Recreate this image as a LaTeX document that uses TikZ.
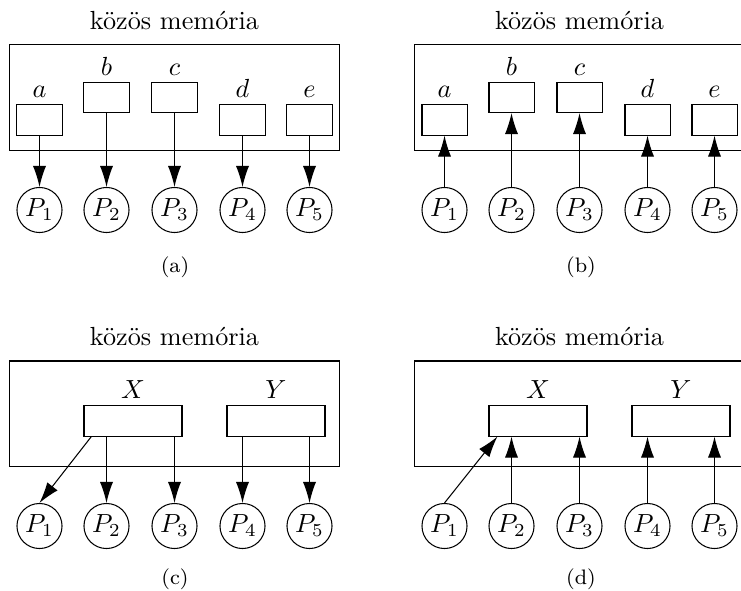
\documentclass[tikz,border=0pt]{standalone}
\usepackage{amsmath}
\usetikzlibrary{arrows.meta}
\usetikzlibrary{positioning}

\tikzset{
  mem/.style={draw, minimum width=126.3pt, minimum height=40.1pt, inner sep=0pt},
  cell/.style={draw, minimum width=17.2pt, minimum height=11.5pt, inner sep=0pt},
  widecell/.style={draw, minimum width=37.4pt, minimum height=11.5pt, inner sep=0pt},
  proc/.style={draw, circle, minimum size=17.2pt, inner sep=1pt},
  lbl/.style={label distance=-1pt},
  acc/.style={-{Latex[length=8pt,width=5pt]}},
  capt/.style={font=\footnotesize}
}

\begin{document}
\begin{tikzpicture}[x=0.3817pt, y=-0.3817pt]
    \useasboundingbox (0, 0) rectangle (741, 590);
    \clip (0, 0) rectangle (741, 590);

    % (a)
    \node [mem] (memA) at (174.5, 97.5) {};
    \node [above=2pt of memA] (titleA) {közös memória};
    \node [cell, label={[lbl]above:$a$}] (aA) at (39.5, 120) {};
    \node [cell, label={[lbl]above:$b$}] (bA) at (106.5, 97.5) {};
    \node [cell, label={[lbl]above:$c$}] (cA) at (174.5, 97.5) {};
    \node [cell, label={[lbl]above:$d$}] (dA) at (242.5, 120) {};
    \node [cell, label={[lbl]above:$e$}] (eA) at (309.5, 120) {};
    \node [proc] (p1A) at (39.5, 210) {$P_1$};
    \node [proc] (p2A) at (106.5, 210) {$P_2$};
    \node [proc] (p3A) at (174.5, 210) {$P_3$};
    \node [proc] (p4A) at (242.5, 210) {$P_4$};
    \node [proc] (p5A) at (309.5, 210) {$P_5$};
    \draw [acc] (aA) -- (p1A);
    \draw [acc] (bA) -- (p2A);
    \draw [acc] (cA) -- (p3A);
    \draw [acc] (dA) -- (p4A);
    \draw [acc] (eA) -- (p5A);
    \node [capt] (capA) at (175, 267) {(a)};

    % (b)
    \begin{scope}[shift={(405, 0)}]
      \node [mem] (memB) at (174.5, 97.5) {};
      \node [above=2pt of memB] (titleB) {közös memória};
      \node [cell, label={[lbl]above:$a$}] (aB) at (39.5, 120) {};
      \node [cell, label={[lbl]above:$b$}] (bB) at (106.5, 97.5) {};
      \node [cell, label={[lbl]above:$c$}] (cB) at (174.5, 97.5) {};
      \node [cell, label={[lbl]above:$d$}] (dB) at (242.5, 120) {};
      \node [cell, label={[lbl]above:$e$}] (eB) at (309.5, 120) {};
      \node [proc] (p1B) at (39.5, 210) {$P_1$};
      \node [proc] (p2B) at (106.5, 210) {$P_2$};
      \node [proc] (p3B) at (174.5, 210) {$P_3$};
      \node [proc] (p4B) at (242.5, 210) {$P_4$};
      \node [proc] (p5B) at (309.5, 210) {$P_5$};
      \draw [acc] (p1B) -- (aB);
      \draw [acc] (p2B) -- (bB);
      \draw [acc] (p3B) -- (cB);
      \draw [acc] (p4B) -- (dB);
      \draw [acc] (p5B) -- (eB);
      \node [capt] (capB) at (176, 267) {(b)};
    \end{scope}

    % (c)
    \begin{scope}[shift={(0, 316)}]
      \node [mem] (memC) at (174.5, 97.5) {};
      \node [above=2pt of memC] (titleC) {közös memória};
      \node [widecell, label={[lbl]above:$X$}] (xC) at (133, 105) {};
      \node [widecell, label={[lbl]above:$Y$}] (yC) at (276, 105) {};
      \node [proc] (p1C) at (39.5, 210) {$P_1$};
      \node [proc] (p2C) at (106.5, 210) {$P_2$};
      \node [proc] (p3C) at (174.5, 210) {$P_3$};
      \node [proc] (p4C) at (242.5, 210) {$P_4$};
      \node [proc] (p5C) at (309.5, 210) {$P_5$};
      \draw [acc] ([xshift=3pt]xC.south west) -- (p1C.north);
      \draw [acc] (p2C |- xC.south) -- (p2C);
      \draw [acc] (p3C |- xC.south) -- (p3C);
      \draw [acc] (p4C |- yC.south) -- (p4C);
      \draw [acc] (p5C |- yC.south) -- (p5C);
      \node [capt] (capC) at (175, 263) {(c)};
    \end{scope}

    % (d)
    \begin{scope}[shift={(405, 316)}]
      \node [mem] (memD) at (174.5, 97.5) {};
      \node [above=2pt of memD] (titleD) {közös memória};
      \node [widecell, label={[lbl]above:$X$}] (xD) at (133, 105) {};
      \node [widecell, label={[lbl]above:$Y$}] (yD) at (276, 105) {};
      \node [proc] (p1D) at (39.5, 210) {$P_1$};
      \node [proc] (p2D) at (106.5, 210) {$P_2$};
      \node [proc] (p3D) at (174.5, 210) {$P_3$};
      \node [proc] (p4D) at (242.5, 210) {$P_4$};
      \node [proc] (p5D) at (309.5, 210) {$P_5$};
      \draw [acc] (p1D.north) -- ([xshift=3.4pt]xD.south west);
      \draw [acc] (p2D) -- (p2D |- xD.south);
      \draw [acc] (p3D) -- (p3D |- xD.south);
      \draw [acc] (p4D) -- (p4D |- yD.south);
      \draw [acc] (p5D) -- (p5D |- yD.south);
      \node [capt] (capD) at (176, 263) {(d)};
    \end{scope}
  \end{tikzpicture}
\end{document}
